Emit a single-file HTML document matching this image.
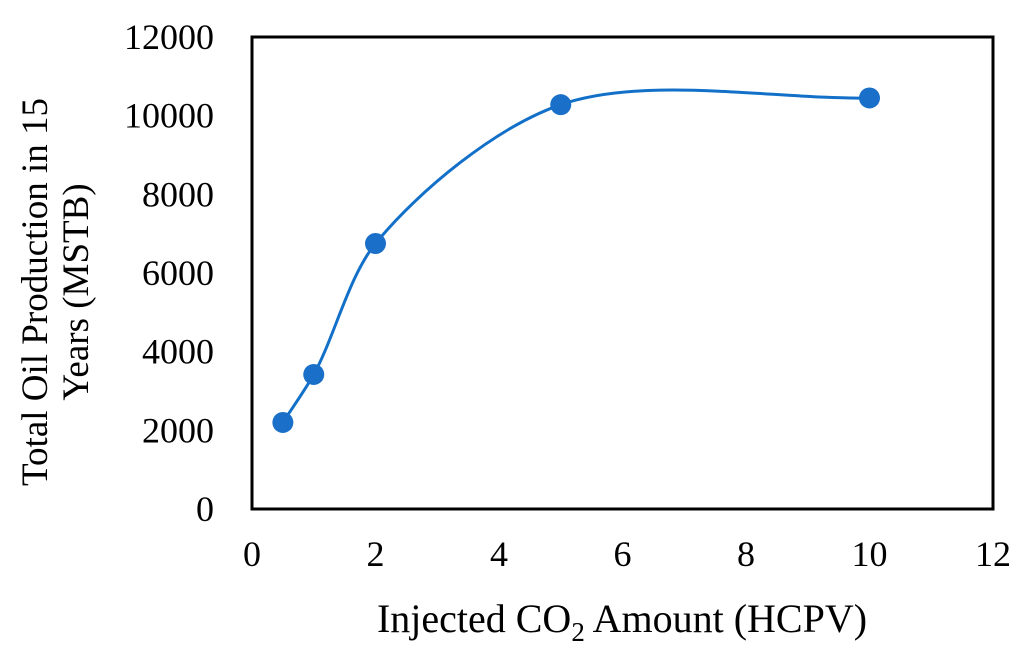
<!DOCTYPE html>
<html><head><meta charset="utf-8"><style>
body{margin:0;background:#fff;}
svg text{font-family:"Liberation Serif",serif;fill:#000;}
</style></head><body>
<svg id="chart" width="1024" height="650">
<rect x="252" y="37" width="741" height="472" fill="#fff" stroke="#000" stroke-width="3"/>
<g id="yticks"></g>
<g id="xticks"></g>
<path id="curve" fill="none" stroke="#1370c8" stroke-width="3"/>
<g id="pts"></g>
<text x="622" y="632" font-size="40" text-anchor="middle">Injected CO<tspan font-size="27" dy="9">2</tspan><tspan dy="-9"> Amount (HCPV)</tspan></text>
<text transform="translate(47,292) rotate(-90)" font-size="37" text-anchor="middle">Total Oil Production in 15</text>
<text transform="translate(88,292) rotate(-90)" font-size="37" text-anchor="middle">Years (MSTB)</text>
</svg>
<script>
const xValues=[0.5,1,2,5,10];
const yValues=[2200,3420,6750,10280,10450];
const xTicks=[0,2,4,6,8,10,12];
const yTicks=[0,2000,4000,6000,8000,10000,12000];
const X0=252,X1=993,Y0=509,Y1=37;
const sx=v=>X0+(v-0)/(12-0)*(X1-X0);
const sy=v=>Y0-(v-0)/(12000-0)*(Y0-Y1);
const NS='http://www.w3.org/2000/svg';
const yt=document.getElementById('yticks');
yTicks.forEach(t=>{const e=document.createElementNS(NS,'text');
e.setAttribute('x',214);e.setAttribute('y',sy(t)+12);e.setAttribute('font-size','36');e.setAttribute('text-anchor','end');e.textContent=t;


yt.appendChild(e);});
const xt=document.getElementById('xticks');
xTicks.forEach(t=>{const e=document.createElementNS(NS,'text');
e.setAttribute('x',sx(t));e.setAttribute('y',566);e.setAttribute('font-size','36');e.setAttribute('text-anchor','middle');e.textContent=t;


xt.appendChild(e);});
const P=xValues.map((x,i)=>[sx(x),sy(yValues[i])]);
const D=[],U=[];
for(let i=0;i<P.length-1;i++){const dx=P[i+1][0]-P[i][0],dy=P[i+1][1]-P[i][1],L=Math.hypot(dx,dy);D.push(L);U.push([dx/L,dy/L]);}
function tan(i){
 if(i===0)return U[0];
 if(i===P.length-1)return U[i-1];
 const m=[U[i-1][0]+U[i][0],U[i-1][1]+U[i][1]];
 const L=Math.hypot(m[0],m[1]);return[m[0]/L,m[1]/L];
}
let d='M'+P[0][0]+','+P[0][1];
for(let i=0;i<P.length-1;i++){
 const p1=P[i],p2=P[i+1],L=D[i]/3.4,t1=tan(i),t2=tan(i+1);
 const c1=[p1[0]+t1[0]*L,p1[1]+t1[1]*L];
 const c2=[p2[0]-t2[0]*L,p2[1]-t2[1]*L];
 d+=' C'+c1+' '+c2+' '+p2;
}
document.getElementById('curve').setAttribute('d',d);
const g=document.getElementById('pts');
P.forEach(p=>{const c=document.createElementNS(NS,'circle');
c.setAttribute('cx',p[0]);c.setAttribute('cy',p[1]);c.setAttribute('r',10.5);c.setAttribute('fill','#1a6fc9');


g.appendChild(c);});
</script>
</body></html>
